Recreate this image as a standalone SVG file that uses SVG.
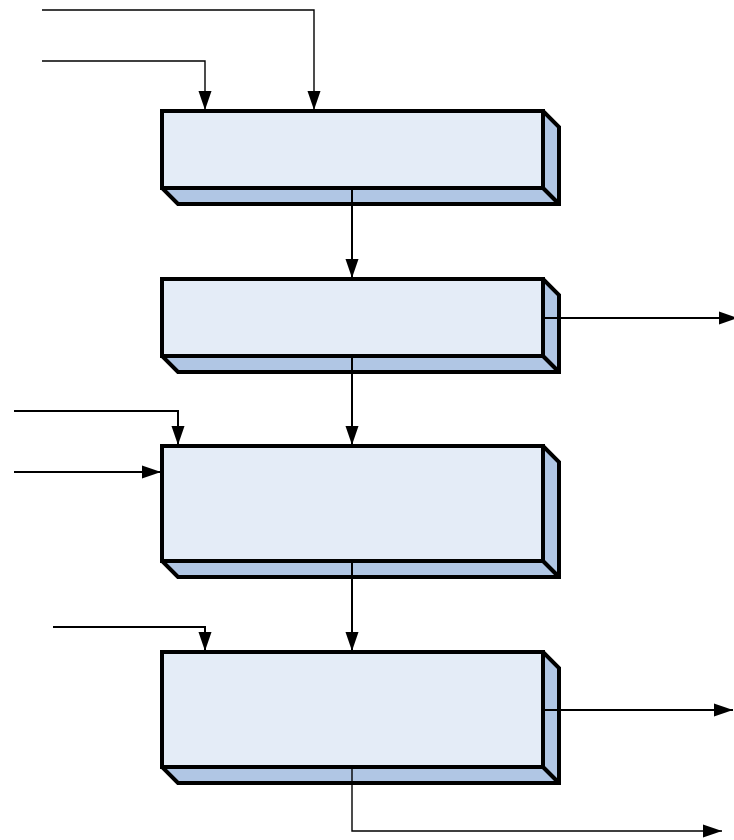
<svg xmlns="http://www.w3.org/2000/svg" width="734" height="840" viewBox="0 0 734 840">
<style>
.side{fill:#B0C6E4;stroke:#000;stroke-width:4;stroke-linejoin:miter}
.front{fill:#E4ECF7;stroke:#000;stroke-width:4;stroke-linejoin:miter}
.edge{fill:none;stroke:#000;stroke-width:4}
.c{fill:none;stroke:#000;stroke-width:2}
.thin{stroke-width:1.4}
</style>
<defs>
<marker id="ah" markerUnits="userSpaceOnUse" markerWidth="20" markerHeight="14" refX="19" refY="7" orient="auto" overflow="visible">
<path d="M0,0.5 L19,7 L0,13.5 Z" fill="#000"/>
</marker>
</defs>
<rect width="734" height="840" fill="#fff"/>
<g id="box1">
<polygon class="side" points="162,111 543,111 559,127 559,204 178,204 162,188"/>
<line class="edge" x1="543" y1="188" x2="559" y2="204"/>
<rect class="front" x="162" y="111" width="381" height="77"/>
</g>
<g id="box2">
<polygon class="side" points="162,279 543,279 559,295 559,372 178,372 162,356"/>
<line class="edge" x1="543" y1="356" x2="559" y2="372"/>
<rect class="front" x="162" y="279" width="381" height="77"/>
</g>
<g id="box3">
<polygon class="side" points="162,446 543,446 559,462 559,577 178,577 162,561"/>
<line class="edge" x1="543" y1="561" x2="559" y2="577"/>
<rect class="front" x="162" y="446" width="381" height="115"/>
</g>
<g id="box4">
<polygon class="side" points="162,652 543,652 559,668 559,783 178,783 162,767"/>
<line class="edge" x1="543" y1="767" x2="559" y2="783"/>
<rect class="front" x="162" y="652" width="381" height="115"/>
</g>
<g id="connectors">
<path class="c thin" d="M42,10 H314 V110" marker-end="url(#ah)"/>
<path class="c thin" d="M42,61 H205 V110" marker-end="url(#ah)"/>
<path class="c" d="M352,188 V278" marker-end="url(#ah)"/>
<path class="c" d="M543,318 H738" marker-end="url(#ah)"/>
<path class="c" d="M352,356 V445" marker-end="url(#ah)"/>
<path class="c" d="M14,411 H178 V445" marker-end="url(#ah)"/>
<path class="c" d="M14,472 H161" marker-end="url(#ah)"/>
<path class="c" d="M352,561 V651" marker-end="url(#ah)"/>
<path class="c" d="M53,627 H205 V651" marker-end="url(#ah)"/>
<path class="c" d="M543,710 H733" marker-end="url(#ah)"/>
<path class="c thin" d="M352,767 V831 H722" marker-end="url(#ah)"/>
</g>
</svg>
